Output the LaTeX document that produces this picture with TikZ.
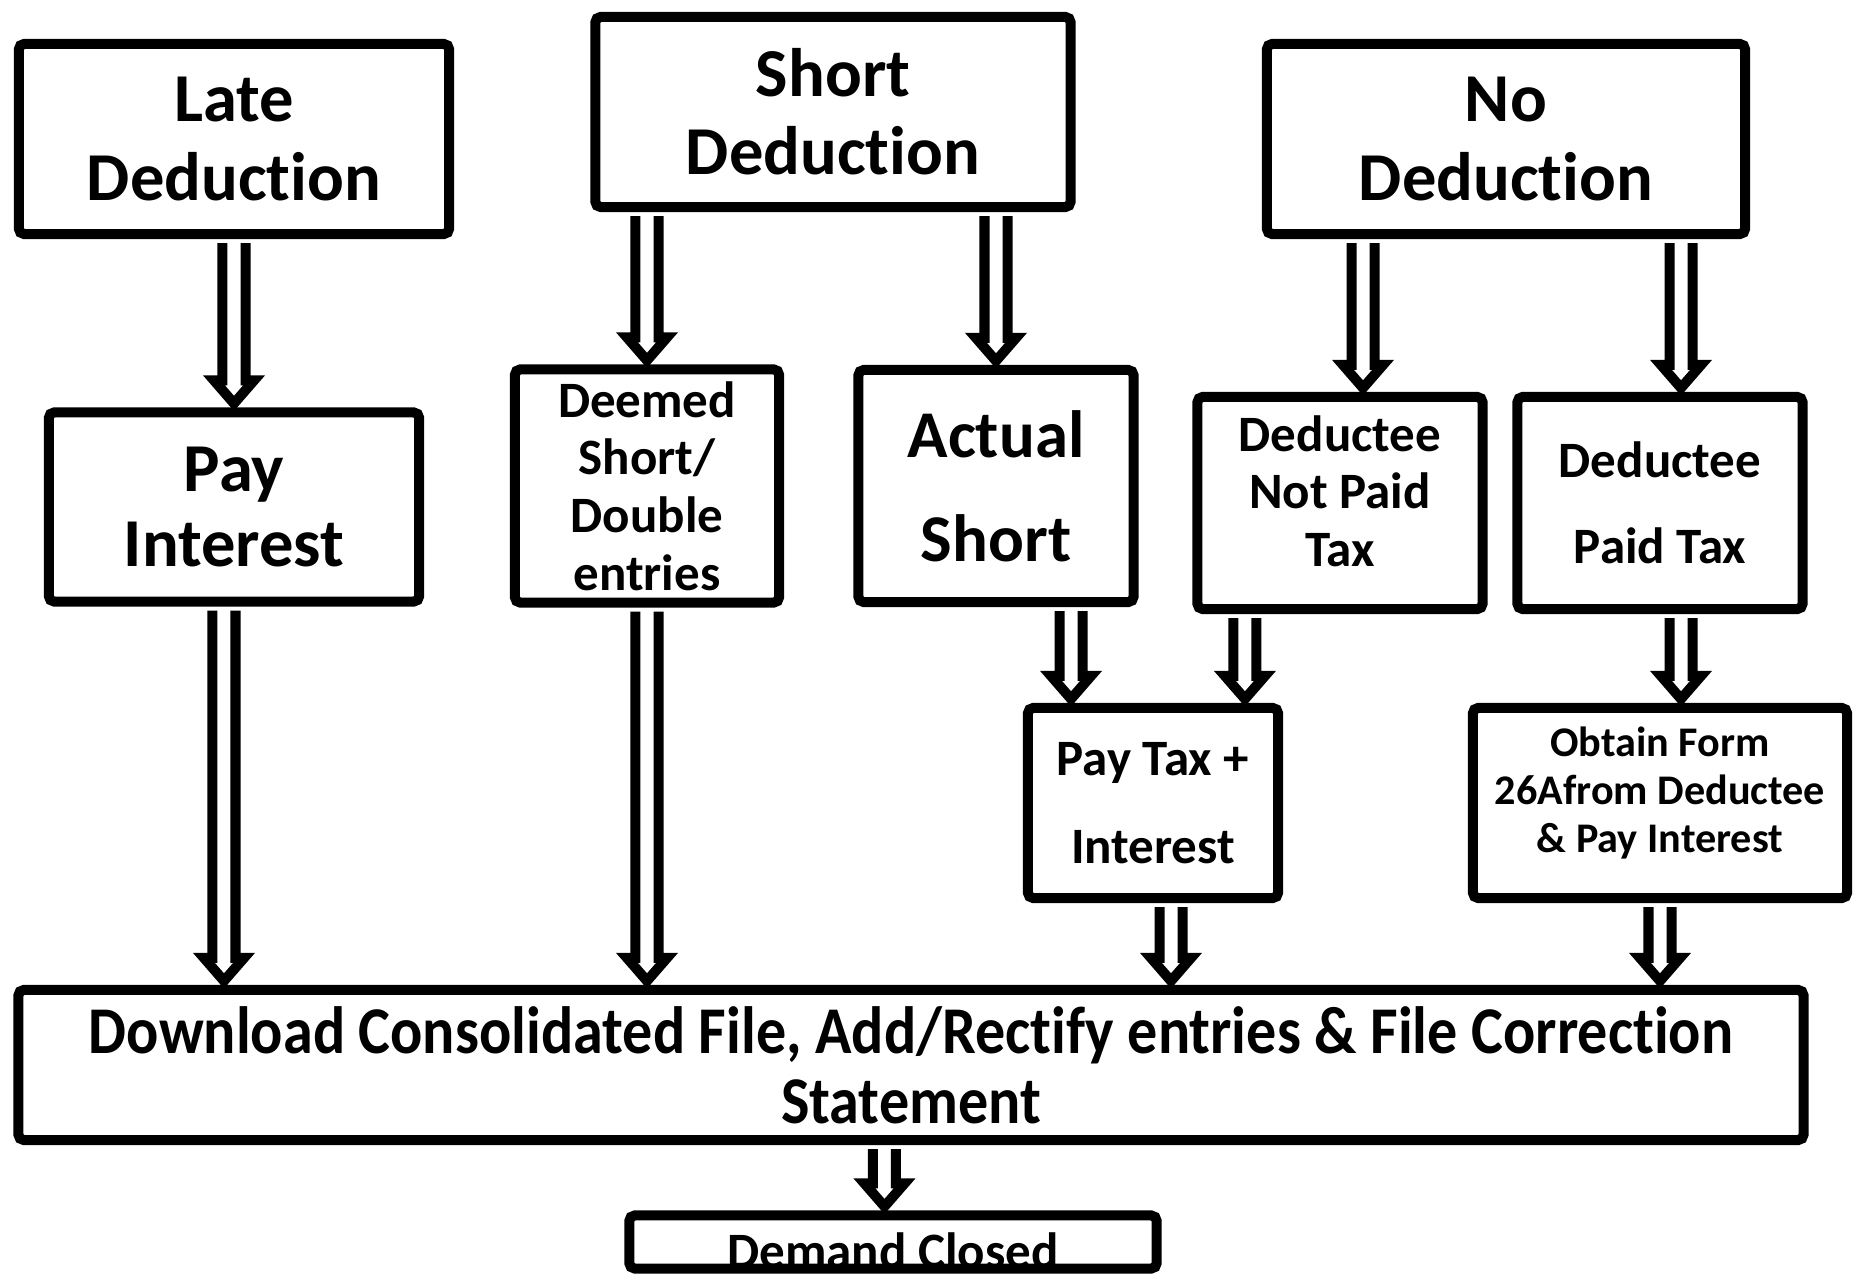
\documentclass[tikz,border=0pt]{standalone}
\usepackage{fontspec}
\setmainfont{Carlito}[Ligatures={NoCommon}]
\newfontfamily\narrowfont{Carlito}[Ligatures={NoCommon}, FakeStretch=0.9]
\usetikzlibrary{calc}

\tikzset{
  box/.style={draw, line width=0.1cm, rounded corners=1.5pt, fill=white,
    align=center, inner sep=0pt},
  big/.style={font=\fontsize{19.5}{22.2}\selectfont\bfseries},
  mid/.style={font=\fontsize{14.5}{16.4}\selectfont\bfseries},
  small/.style={font=\fontsize{12}{13.7}\selectfont\bfseries},
  blockarrow/.style={line width=0.1cm, fill=white, line join=miter,
    to path={let \p1=(\tikztostart), \p2=(\tikztotarget) in
      (\x1-0.115cm,\y1-0.04cm) -- (\x1-0.115cm,\y2+0.27cm)
      -- (\x1-0.2cm,\y2+0.27cm) -- (\x1,\y2+0.04cm)
      -- (\x1+0.2cm,\y2+0.27cm) -- (\x1+0.115cm,\y2+0.27cm)
      -- (\x1+0.115cm,\y1-0.04cm)}}
}

\begin{document}
\begin{tikzpicture}[x=0.01cm, y=-0.01cm]
  \useasboundingbox (0,0) rectangle (1859,1279);
  % fila superior
  \node[box, big, minimum width=4.3cm, minimum height=1.9cm] (late) at (234,139) {Late\\Deduction};
  \node[box, big, minimum width=4.75cm, minimum height=1.9cm] (short) at (833,112) {Short\\Deduction};
  \node[box, big, minimum width=4.78cm, minimum height=1.9cm] (no) at (1506,139) {No\\Deduction};
  % fila media
  \node[box, big, minimum width=3.7cm, minimum height=1.89cm,
    font=\fontsize{19.5}{21.5}\selectfont\bfseries] (payint) at (234,507) {Pay\\Interest};
  \node[box, mid, minimum width=2.64cm, minimum height=2.33cm] (deemed) at (647,486) {Deemed\\Short/\\Double\\entries};
  \node[box, big, minimum width=2.75cm, minimum height=2.32cm,
    font=\fontsize{19}{29.6}\selectfont\bfseries] (actual) at (996,486) {Actual\\Short};
  \node[box, mid, minimum width=2.85cm, minimum height=2.12cm] (notpaid) at (1340,503) {Deductee\\Not Paid\\Tax\\[-9.6pt]};
  \node[box, mid, minimum width=2.85cm, minimum height=2.12cm,
    font=\fontsize{14.5}{24.6}\selectfont\bfseries] (paid) at (1660,503) {Deductee\\Paid Tax};
  % fila inferior
  \node[box, mid, minimum width=2.5cm, minimum height=1.9cm,
    font=\fontsize{14.5}{25}\selectfont\bfseries] (paytax) at (1153,803) {Pay Tax +\\Interest};
  \node[box, small, minimum width=3.74cm, minimum height=1.9cm] (obtain) at (1660,803) {Obtain Form\\26Afrom Deductee\\\& Pay Interest\\[-6.3pt]};
  \node[box, minimum width=17.84cm, minimum height=1.5cm,
    font=\narrowfont\fontsize{19}{19.9}\selectfont\bfseries] (download) at (911,1065)
    {Download Consolidated File, Add/Rectify entries \& File Correction\\Statement};
  \node[box, font=\fontsize{14.5}{16}\selectfont\bfseries, minimum width=5.27cm,
    text height=0.53cm, text depth=0pt] (demand) at (893,1242) {Demand Closed};
  % flechas
  \draw[blockarrow] (late.south) to (payint.north);
  \draw[blockarrow] (short.south -| deemed.north) to (deemed.north);
  \draw[blockarrow] (short.south -| actual.north) to (actual.north);
  \draw[blockarrow] ([xshift=0.23cm]no.south -| notpaid.north) to (notpaid.north);
  \draw[blockarrow] ([xshift=0.21cm]no.south -| paid.north) to (paid.north);
  \draw[blockarrow] ([xshift=0.75cm]actual.south) to (paytax.north);
  \draw[blockarrow] ([xshift=-0.95cm]notpaid.south) to (paytax.north);
  \draw[blockarrow] ([xshift=0.21cm]paid.south) to (obtain.north);
  \draw[blockarrow] ([xshift=-0.1cm]payint.south) to (download.north);
  \draw[blockarrow] (deemed.south) to (download.north);
  \draw[blockarrow] ([xshift=0.18cm]paytax.south) to (download.north);
  \draw[blockarrow] (obtain.south) to (download.north);
  \draw[blockarrow] ([xshift=-0.265cm]download.south) to (demand.north);
\end{tikzpicture}
\end{document}
